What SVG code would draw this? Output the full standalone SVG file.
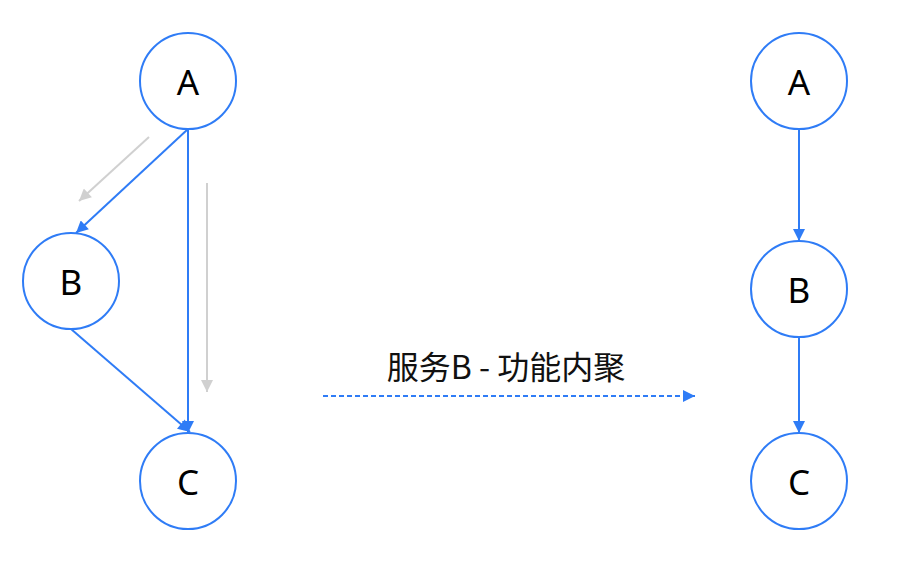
<svg xmlns="http://www.w3.org/2000/svg" width="912" height="564" viewBox="0 0 912 564">
<style>
.node circle{fill:#fff;stroke:#2f7cf6;stroke-width:2}
.node text{font-family:"Noto Sans","Liberation Sans",sans-serif;font-size:35px;fill:#000;text-anchor:middle;dominant-baseline:central}
.e{stroke:#2f7cf6;stroke-width:2;fill:none}
.g{stroke:#d0d0d0;stroke-width:2;fill:none}
.lbl{font-family:"Noto Sans CJK SC","Noto Sans",sans-serif;font-size:32px;fill:#111;text-anchor:middle}
</style>
<defs>
<marker id="ab" viewBox="0 0 10 10" refX="10" refY="5" markerUnits="userSpaceOnUse" markerWidth="13" markerHeight="12" orient="auto"><path d="M0,0 L10,5 L0,10 z" fill="#2f7cf6"/></marker>
<marker id="ag" viewBox="0 0 10 10" refX="10" refY="5" markerUnits="userSpaceOnUse" markerWidth="13" markerHeight="12" orient="auto"><path d="M0,0 L10,5 L0,10 z" fill="#d0d0d0"/></marker>
</defs>
<g id="connectors">
<line class="g" x1="149" y1="137" x2="79" y2="201" marker-end="url(#ag)"/>
<line class="g" x1="207" y1="183" x2="207" y2="392" marker-end="url(#ag)"/>
<line class="e" x1="188" y1="129" x2="76" y2="233" marker-end="url(#ab)"/>
<line class="e" x1="188" y1="129" x2="188" y2="433" marker-end="url(#ab)"/>
<line class="e" x1="71" y1="329" x2="190" y2="432" marker-end="url(#ab)"/>
<line class="e" x1="799" y1="129" x2="799" y2="241" marker-end="url(#ab)"/>
<line class="e" x1="799" y1="337" x2="799" y2="433" marker-end="url(#ab)"/>
<line class="e" x1="323" y1="396" x2="695" y2="396" stroke-dasharray="5,3" stroke-width="1.5" marker-end="url(#ab)"/>
</g>
<text class="lbl" x="506" y="379">服务B - 功能内聚</text>
<g id="A1" class="node"><circle cx="188" cy="81" r="48"/><text x="188" y="81">A</text></g>
<g id="B1" class="node"><circle cx="71" cy="281" r="48"/><text x="71" y="281">B</text></g>
<g id="C1" class="node"><circle cx="188" cy="481" r="48"/><text x="188" y="481">C</text></g>
<g id="A2" class="node"><circle cx="799" cy="81" r="48"/><text x="799" y="81">A</text></g>
<g id="B2" class="node"><circle cx="799" cy="289" r="48"/><text x="799" y="289">B</text></g>
<g id="C2" class="node"><circle cx="799" cy="481" r="48"/><text x="799" y="481">C</text></g>
</svg>
